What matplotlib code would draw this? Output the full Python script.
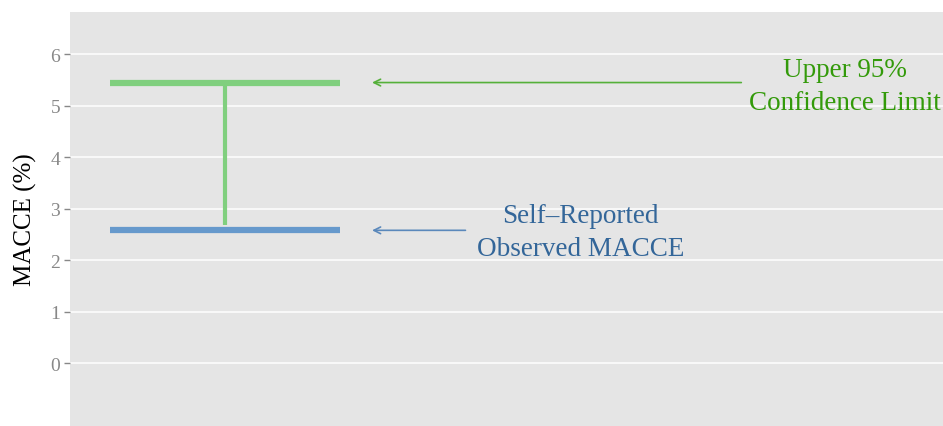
import matplotlib
matplotlib.use("Agg")
import matplotlib.pyplot as plt

# data
observed = 2.58
upper_ci = 5.45
bar_x = [0.046, 0.309]
stem_x = 0.178
stem_bottom = 2.68
yticks = [0, 1, 2, 3, 4, 5, 6]
label_upper = "Upper 95%\nConfidence Limit"
label_obs = "Self\u2013Reported\nObserved MACCE"

plt.rcParams['font.family'] = ['Liberation Serif', 'DejaVu Serif']

fig = plt.figure(figsize=(9.43, 4.27), dpi=100)
ax = fig.add_axes([70/943, 0, 873/943, 1 - 13/427])
ax.set_facecolor('#E5E5E5')
ax.set_xlim(0, 1)
ax.set_ylim(-1.22, 6.82)
ax.set_yticks(yticks)
ax.set_xticks([])
ax.grid(axis='y', color='white', linewidth=1.1)
ax.set_axisbelow(True)
for s in ax.spines.values():
    s.set_visible(False)
ax.tick_params(axis='y', colors='#888888', labelsize=14, length=4, width=1, pad=3)
ax.set_ylabel("MACCE (%)", fontsize=18, color='black', labelpad=10)

ax.plot([stem_x, stem_x], [upper_ci, stem_bottom], color='#80CF7E', lw=3, solid_capstyle='butt', zorder=3)
ax.plot(bar_x, [upper_ci, upper_ci], color='#80CF7E', lw=4.5, solid_capstyle='butt', zorder=4)
ax.plot(bar_x, [observed, observed], color='#6699CC', lw=4.5, solid_capstyle='butt', zorder=4)

ax.annotate("", xy=(0.346, upper_ci), xytext=(0.769, upper_ci),
            arrowprops=dict(arrowstyle='->', color='#55B03A', lw=1.2,
                            shrinkA=0, shrinkB=0, mutation_scale=12))
ax.annotate("", xy=(0.346, observed), xytext=(0.453, observed),
            arrowprops=dict(arrowstyle='->', color='#5A88BB', lw=1.2,
                            shrinkA=0, shrinkB=0, mutation_scale=12))

ax.text(0.888, 5.38, label_upper, color='#339A0A', fontsize=19.5, ha='center', va='center',
        linespacing=1.45)
ax.text(0.585, 2.55, label_obs, color='#336699', fontsize=19.5, ha='center', va='center',
        linespacing=1.45)

fig.savefig("out.png", dpi=100)
